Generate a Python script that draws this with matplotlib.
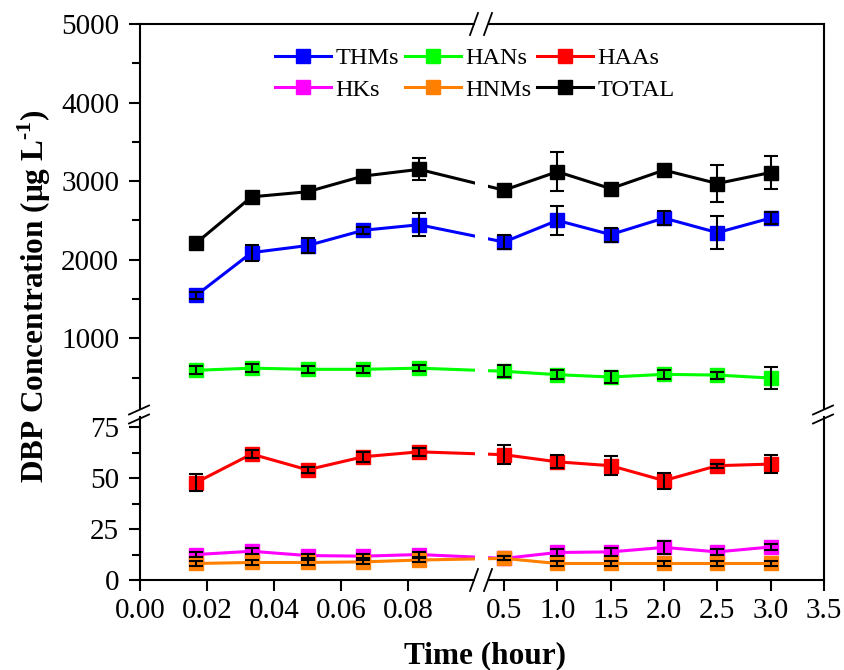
import numpy as np
import matplotlib
matplotlib.use("Agg")
import matplotlib.pyplot as plt
from matplotlib.lines import Line2D
from matplotlib.patches import Rectangle
from matplotlib.ticker import FixedLocator
from matplotlib.transforms import blended_transform_factory

plt.rcParams["font.family"] = ["Liberation Serif", "DejaVu Serif"]
plt.rcParams["mathtext.fontset"] = "custom"
plt.rcParams["mathtext.rm"] = "Liberation Serif:bold"
plt.rcParams["mathtext.bf"] = "Liberation Serif:bold"

# sampling times (hour)
time = [0.0167, 0.0333, 0.05, 0.0667, 0.0833, 0.5, 1.0, 1.5, 2.0, 2.5, 3.0]

# upper panel series (µg/L)
thms = [1545, 2090, 2180, 2375, 2445, 2225, 2500, 2320, 2530, 2345, 2530]
thms_err = [40, 100, 95, 45, 145, 85, 185, 90, 90, 210, 75]
hans = [592, 620, 605, 605, 620, 580, 537, 507, 541, 532, 494]
hans_err = [50, 50, 45, 45, 35, 75, 60, 80, 55, 45, 140]
total = [2210, 2800, 2865, 3065, 3150, 2885, 3120, 2905, 3140, 2970, 3110]
total_err = [40, 55, 70, 60, 140, 45, 245, 50, 50, 230, 215]

# lower panel series (µg/L)
haas = [47.8, 61.8, 54.1, 60.5, 62.9, 61.5, 58.0, 56.1, 48.8, 56.1, 56.9]
haas_err = [4.2, 2.0, 1.5, 2.5, 2.0, 4.8, 3.2, 4.6, 3.9, 1.0, 4.3]
hks = [12.5, 14.1, 12.0, 11.7, 12.5, 10.6, 13.5, 13.8, 16.0, 13.8, 16.2]
hks_err = [1.2, 1.5, 1.0, 1.0, 1.2, 1.0, 1.5, 1.8, 3.0, 1.5, 1.5]
hnms = [8.1, 8.6, 8.6, 8.9, 9.8, 10.6, 8.1, 8.1, 8.1, 8.1, 8.1]
hnms_err = [1.2, 1.0, 1.0, 1.0, 1.0, 1.0, 1.0, 1.0, 1.0, 1.0, 1.0]

upper = [("THMs", thms, thms_err, "#0000FF"),
         ("HANs", hans, hans_err, "#00FF00"),
         ("TOTAL", total, total_err, "#000000")]
lower = [("HAAs", haas, haas_err, "#FF0000"),
         ("HKs", hks, hks_err, "#FF00FF"),
         ("HNMs", hnms, hnms_err, "#FF8000")]

left_ticks = [0.00, 0.02, 0.04, 0.06, 0.08]
right_ticks = [0.5, 1.0, 1.5, 2.0, 2.5, 3.0, 3.5]

# broken time axis: 0-0.1 h and 0.35-3.5 h, joined by a short gap
B0, B1, XMAX = 0.1, 0.35, 3.5
SEG_L, GAP, SEG_R = 335.0, 13.0, 336.0


def fwd(x):
    x = np.asarray(x, dtype=float)
    return np.where(x <= B0, x * SEG_L / B0,
                    np.where(x <= B1, SEG_L + (x - B0) * GAP / (B1 - B0),
                             SEG_L + GAP + (x - B1) * SEG_R / (XMAX - B1)))


def inv(u):
    u = np.asarray(u, dtype=float)
    return np.where(u <= SEG_L, u * B0 / SEG_L,
                    np.where(u <= SEG_L + GAP,
                             B0 + (u - SEG_L) * (B1 - B0) / GAP,
                             B1 + (u - SEG_L - GAP) * (XMAX - B1) / SEG_R))


W, H = 844, 670
fig = plt.figure(figsize=(W / 100, H / 100), dpi=100)


def box(x0, x1, ytop, ybot):
    return [x0 / W, 1 - ybot / H, (x1 - x0) / W, (ybot - ytop) / H]


X0, X1 = 140, 824
YT0, YT1, YB0, YB1 = 24, 409, 417, 580
XGAP0, XGAP1 = X0 + SEG_L, X0 + SEG_L + GAP

ax_t = fig.add_axes(box(X0, X1, YT0, YT1))
ax_b = fig.add_axes(box(X0, X1, YB0, YB1))

handles = {}
for ax, series in ((ax_t, upper), (ax_b, lower)):
    ax.set_xscale("function", functions=(fwd, inv))
    ax.set_xlim(0, XMAX)
    for name, vals, errs, col in series:
        ln, = ax.plot(time, vals, color=col, lw=2.2, marker="s", ms=10,
                      mec=col, mfc=col, zorder=3)
        ax.errorbar(time, vals, yerr=errs, fmt="none", ecolor="black",
                    elinewidth=1.5, capsize=5, capthick=1.5, zorder=4)
        handles[name] = ln
    # blank the break region (lines and frame)
    tr = blended_transform_factory(ax.transData, ax.transAxes)
    ax.add_patch(Rectangle((B0, -0.05), B1 - B0, 1.1, transform=tr,
                           facecolor="white", edgecolor="none",
                           zorder=6, clip_on=False))

ax_t.set_ylim(100, 5000)
ax_t.yaxis.set_major_locator(FixedLocator([1000, 2000, 3000, 4000, 5000]))
ax_t.yaxis.set_minor_locator(FixedLocator([500, 1500, 2500, 3500, 4500]))
ax_t.spines["bottom"].set_visible(False)
ax_t.tick_params(axis="x", which="both", bottom=False, labelbottom=False)

ax_b.set_ylim(0, 80)
ax_b.yaxis.set_major_locator(FixedLocator([0, 25, 50, 75]))
ax_b.yaxis.set_minor_locator(FixedLocator([12.5, 37.5, 62.5]))
ax_b.spines["top"].set_visible(False)
ticks = left_ticks + right_ticks
ax_b.xaxis.set_major_locator(FixedLocator(ticks))
ax_b.xaxis.set_minor_locator(FixedLocator([]))
ax_b.set_xticklabels([f"{t:.2f}" for t in left_ticks] +
                     [f"{t:.1f}" for t in right_ticks])

for ax in (ax_t, ax_b):
    for s in ax.spines.values():
        s.set_linewidth(1.5)
    ax.tick_params(which="both", direction="out", width=1.5, labelsize=21,
                   top=False, right=False)
    ax.tick_params(which="major", length=8)
    ax.tick_params(which="minor", length=6)
    ax.tick_params(axis="y", which="both", pad=7)
    ax.tick_params(axis="x", which="both", pad=5)
    ax.patch.set_alpha(0)


# break marks on the frame
def slash(xc, yc, dx, dy):
    fig.add_artist(Line2D([(xc - dx) / W, (xc + dx) / W],
                          [1 - (yc + dy) / H, 1 - (yc - dy) / H],
                          transform=fig.transFigure, color="black", lw=1.3,
                          zorder=10))


for yc in (YT0, YB1):
    slash(XGAP0 - 1, yc, 4, 11)
    slash(XGAP1, yc, 4, 11)
for xc in (X0, X1):
    slash(xc - 1, YT1 + 1, 10, 4.5)
    slash(xc - 1, YB0 + 2, 10, 4.5)

order = ["THMs", "HKs", "HANs", "HNMs", "HAAs", "TOTAL"]
fig.legend([handles[k] for k in order], order, ncol=3, frameon=False,
           loc="upper left", bbox_to_anchor=(275 / W, 1 - 47 / H),
           fontsize=17.5, handlelength=2.3, handletextpad=0.2,
           columnspacing=0.22, labelspacing=0.4, borderpad=0,
           borderaxespad=0)

fig.text(485 / W, 1 - 656 / H, "Time (hour)", ha="center", va="center",
         fontsize=22.5, fontweight="bold")
fig.text(34 / W, 1 - 296 / H, r"DBP Concentration (μg L$^{\text{-1}}$)",
         ha="center", va="center", rotation=90, fontsize=22.5,
         fontweight="bold")

fig.savefig("out.png", dpi=100)
